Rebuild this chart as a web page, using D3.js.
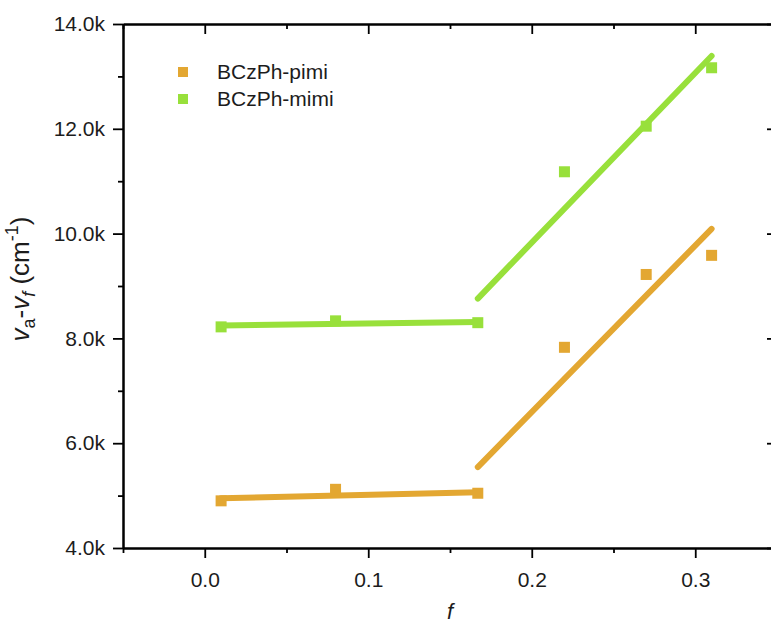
<!DOCTYPE html>
<html>
<head>
<meta charset="utf-8">
<script src="https://cdn.jsdelivr.net/npm/d3@7"></script>
<style>
  html, body { margin: 0; padding: 0; background: #fff; }
  svg { display: block; }
</style>
</head>
<body>
<div id="chart"><svg width="771" height="626"></svg></div>
<script>
// values
const fValues = [0.01, 0.08, 0.167, 0.22, 0.27, 0.31];
const pimiValues = [4900, 5120, 5045, 7830, 9220, 9585];
const mimiValues = [8220, 8335, 8300, 11180, 12050, 13165];
const seriesNames = ["BCzPh-pimi", "BCzPh-mimi"];

// two linear fit segments per series (start f, end f, start value, end value)
const fitStartF = [0.01, 0.167];
const fitEndF = [0.167, 0.31];
const pimiFit = [[4950, 5065], [5545, 10090]];
const mimiFit = [[8245, 8315], [8760, 13390]];

const xTicks = [0.0, 0.1, 0.2, 0.3];
const xMinorTicks = [-0.05, 0.05, 0.15, 0.25, 0.35];
const yTicks = [4000, 6000, 8000, 10000, 12000, 14000];
const yMinorTicks = [5000, 7000, 9000, 11000, 13000];

/**********************
***** BASIC SETUP *****
**********************/
const width = 771;
const height = 626;
// the right frame sits just past the picture edge, as in the original
const margin = {top: 24, left: 123, right: -6, bottom: 78};

const svg = d3.select("#chart").select("svg");
svg.append("rect").attr("width", width).attr("height", height).attr("fill", "#fff");

const FONT = "'Liberation Sans', Arial, sans-serif";
const textColor = "#1c1c1c";
const colorPimi = "#E3A732";
const colorMimi = "#98E03B";

/***********************
***** X & Y SCALES *****
***********************/
let xScale = d3.scaleLinear()
    .domain([-0.05, 0.35])
    .range([margin.left, width - margin.right]);

let yScale = d3.scaleLinear()
    .domain([4000, 14000])
    .range([height - margin.bottom, margin.top]);

const x0 = xScale.range()[0], x1 = xScale.range()[1];
const y0 = yScale.range()[0], y1 = yScale.range()[1];

/*****************
***** AXES *****
*****************/
function styleAxis(g) {
    g.select(".domain").attr("stroke", "#000").attr("stroke-width", 2);
    g.selectAll(".tick line").attr("stroke", "#000").attr("stroke-width", 1.8);
    g.selectAll("text")
        .attr("fill", textColor)
        .style("font-family", FONT)
        .style("font-size", "21px");
}

// bottom
svg.append("g")
    .attr("transform", "translate(0," + y0 + ")")
    .call(d3.axisBottom(xScale).tickValues(xMinorTicks).tickSize(5).tickSizeOuter(0).tickFormat(""))
    .call(styleAxis);
svg.append("g")
    .attr("transform", "translate(0," + y0 + ")")
    .call(d3.axisBottom(xScale).tickValues(xTicks).tickSize(10).tickSizeOuter(0).tickPadding(14)
        .tickFormat(d3.format(".1f")))
    .call(styleAxis);

// top (ticks inward)
svg.append("g")
    .attr("transform", "translate(0," + y1 + ")")
    .call(d3.axisTop(xScale).tickValues(xMinorTicks).tickSize(-5).tickSizeOuter(0).tickFormat(""))
    .call(styleAxis);
svg.append("g")
    .attr("transform", "translate(0," + y1 + ")")
    .call(d3.axisTop(xScale).tickValues(xTicks).tickSize(-10).tickSizeOuter(0).tickFormat(""))
    .call(styleAxis);

// left
svg.append("g")
    .attr("transform", "translate(" + x0 + ",0)")
    .call(d3.axisLeft(yScale).tickValues(yMinorTicks).tickSize(5).tickSizeOuter(0).tickFormat(""))
    .call(styleAxis);
svg.append("g")
    .attr("transform", "translate(" + x0 + ",0)")
    .call(d3.axisLeft(yScale).tickValues(yTicks).tickSize(10).tickSizeOuter(0).tickPadding(8)
        .tickFormat(d => (d / 1000).toFixed(1) + "k"))
    .call(styleAxis);

// right (ticks inward)
svg.append("g")
    .attr("transform", "translate(" + x1 + ",0)")
    .call(d3.axisRight(yScale).tickValues(yMinorTicks).tickSize(-5).tickSizeOuter(0).tickFormat(""))
    .call(styleAxis);
svg.append("g")
    .attr("transform", "translate(" + x1 + ",0)")
    .call(d3.axisRight(yScale).tickValues(yTicks).tickSize(-10).tickSizeOuter(0).tickFormat(""))
    .call(styleAxis);

/*************************
***** AXIS LABELS *****
*************************/
svg.append("text")
    .attr("x", (x0 + x1) / 2)
    .attr("y", 619)
    .attr("text-anchor", "middle")
    .attr("fill", textColor)
    .style("font-family", FONT)
    .style("font-size", "22px")
    .style("font-style", "italic")
    .text("f");

const yLabel = svg.append("text")
    .attr("transform", "translate(29,279) rotate(-90)")
    .attr("text-anchor", "middle")
    .attr("fill", textColor)
    .style("font-family", FONT)
    .style("font-size", "26px");
yLabel.append("tspan").style("font-style", "italic").text("v");
yLabel.append("tspan").attr("dy", 6).style("font-size", "18px").text("a");
yLabel.append("tspan").attr("dy", -6).text("-");
yLabel.append("tspan").style("font-style", "italic").text("v");
yLabel.append("tspan").attr("dy", 6).style("font-size", "18px").style("font-style", "italic").text("f");
yLabel.append("tspan").attr("dy", -6).text(" (cm");
yLabel.append("tspan").attr("dy", -11).style("font-size", "18px").text("-1");
yLabel.append("tspan").attr("dy", 11).text(")");

/*************************
***** FIT LINES *****
*************************/
const line = d3.line()
    .x(d => xScale(d[0]))
    .y(d => yScale(d[1]));

const seriesFits = [pimiFit, mimiFit];
const seriesColors = [colorPimi, colorMimi];

for (let s = 0; s < seriesFits.length; s++) {
    for (let k = 0; k < fitStartF.length; k++) {
        svg.append("path")
            .datum([[fitStartF[k], seriesFits[s][k][0]], [fitEndF[k], seriesFits[s][k][1]]])
            .attr("d", line)
            .attr("fill", "none")
            .attr("stroke", seriesColors[s])
            .attr("stroke-width", 6)
            .attr("stroke-linecap", "round");
    }
}

/*************************
***** SQUARE MARKERS *****
*************************/
const markerSize = 11;
const seriesValues = [pimiValues, mimiValues];

for (let s = 0; s < seriesValues.length; s++) {
    svg.selectAll(".pt" + s)
        .data(fValues.map((f, i) => [f, seriesValues[s][i]]))
        .enter()
        .append("rect")
        .attr("class", "pt" + s)
        .attr("x", d => xScale(d[0]) - markerSize / 2)
        .attr("y", d => yScale(d[1]) - markerSize / 2)
        .attr("width", markerSize)
        .attr("height", markerSize)
        .attr("fill", seriesColors[s]);
}

/****************
***** LEGEND *****
****************/
const legend = svg.append("g").attr("transform", "translate(183,72)");
const legendRow = legend.selectAll("g")
    .data(seriesNames)
    .enter()
    .append("g")
    .attr("transform", (d, i) => "translate(0," + i * 27 + ")");

legendRow.append("rect")
    .attr("x", -5).attr("y", -5)
    .attr("width", 10).attr("height", 10)
    .attr("fill", (d, i) => seriesColors[i]);

legendRow.append("text")
    .attr("x", 34)
    .attr("y", 0)
    .attr("dy", "0.35em")
    .attr("fill", textColor)
    .style("font-family", FONT)
    .style("font-size", "21px")
    .text(d => d);
</script>
</body>
</html>
